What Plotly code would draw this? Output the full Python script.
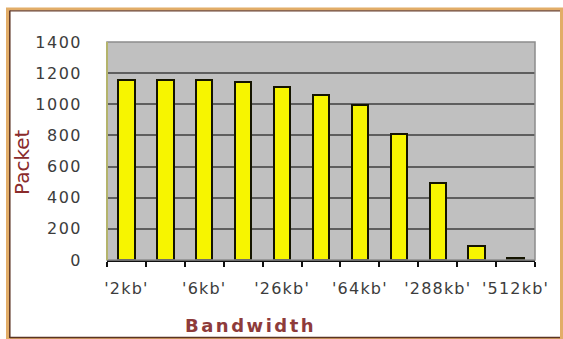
import plotly.graph_objects as go

# Packets delivered at each bandwidth setting (11 bars, every other one labelled)
packets = [1155, 1155, 1155, 1145, 1110, 1060, 995, 810, 495, 90, 12]
tick_labels = ["'2kb'", "'6kb'", "'26kb'", "'64kb'", "'288kb'", "'512kb'"]

x_pos = list(range(len(packets)))
label_pos = x_pos[::2]

# plot-area geometry in pixels, used to place the frame and titles
W, H = 563, 339
L, R, T, B = 107, 535, 42, 260


def px_x(p):
    return (p - L) / (R - L)


def px_y(p):
    return (B - p) / (B - T)


def spaced(text, gap):
    return f"<span style='letter-spacing:{gap}px'>{text}</span>"


fig = go.Figure(
    go.Bar(
        x=x_pos,
        y=packets,
        width=0.42,
        marker=dict(color="#f7f500", line=dict(color="#141400", width=2)),
    )
)

tick_font = dict(family="DejaVu Sans", size=16, color="#3c3c3c")
y_ticks = [0, 200, 400, 600, 800, 1000, 1200, 1400]

fig.update_layout(
    width=W,
    height=H,
    margin=dict(l=L, r=W - R, t=T, b=H - B, pad=0),
    paper_bgcolor="white",
    plot_bgcolor="#c0c0c0",
    showlegend=False,
    bargap=0,
    xaxis=dict(
        range=[-0.5, len(packets) - 0.5],
        tickvals=label_pos,
        ticktext=[spaced(t, 1.2) for t in tick_labels],
        ticks="",
        ticklabelstandoff=13,
        tickfont=tick_font,
        showgrid=False,
        zeroline=False,
        showline=True,
        linecolor="#101010",
        linewidth=2,
        minor=dict(
            tickvals=[i - 0.5 for i in range(len(packets) + 1)],
            ticks="outside",
            ticklen=5,
            tickwidth=1.5,
            tickcolor="#101010",
            showgrid=False,
        ),
        fixedrange=True,
    ),
    yaxis=dict(
        range=[0, 1400],
        tickvals=y_ticks,
        ticktext=[spaced(v, 1.5) for v in y_ticks],
        ticks="",
        ticklabelstandoff=24,
        tickfont=tick_font,
        showgrid=True,
        gridcolor="#5e5e5e",
        gridwidth=2,
        zeroline=False,
        showline=False,
        fixedrange=True,
    ),
    shapes=[
        # gray border of the plot area
        dict(type="rect", xref="paper", yref="paper", x0=0, x1=1, y0=0, y1=1,
             line=dict(color="#8c8c8c", width=1.5), layer="above"),
        # olive left edge of the plot area
        dict(type="line", xref="paper", yref="paper", x0=0, x1=0, y0=0, y1=1,
             line=dict(color="#b4b46c", width=2), layer="above"),
        # outer frame: tan band with a dark brown inner rule
        dict(type="rect", xref="paper", yref="paper",
             x0=px_x(7.5), x1=px_x(561.5), y0=px_y(339.5), y1=px_y(9),
             line=dict(color="#e2ad68", width=3)),
        dict(type="line", xref="paper", yref="paper",
             x0=px_x(9.8), x1=px_x(9.8), y0=px_y(338), y1=px_y(10.5),
             line=dict(color="#5a3322", width=1.5)),
        dict(type="line", xref="paper", yref="paper",
             x0=px_x(9.8), x1=px_x(560), y0=px_y(10.8), y1=px_y(10.8),
             line=dict(color="#6a4030", width=1.2)),
        dict(type="line", xref="paper", yref="paper",
             x0=px_x(9.8), x1=px_x(560), y0=px_y(337.5), y1=px_y(337.5),
             line=dict(color="#5a3322", width=1.5)),
    ],
    annotations=[
        dict(text="Packet", textangle=-90, xref="paper", yref="paper",
             x=px_x(22), y=px_y(162), showarrow=False,
             xanchor="center", yanchor="middle",
             font=dict(family="DejaVu Sans", size=20, color="#8a2b2b")),
        dict(text="<b>" + spaced("Bandwidth", 2.5) + "</b>",
             xref="paper", yref="paper",
             x=px_x(250), y=px_y(325), showarrow=False,
             xanchor="center", yanchor="middle",
             font=dict(family="DejaVu Sans", size=18, color="#8e3b3b")),
    ],
)

fig.write_html("out.html", config={"displayModeBar": False})
